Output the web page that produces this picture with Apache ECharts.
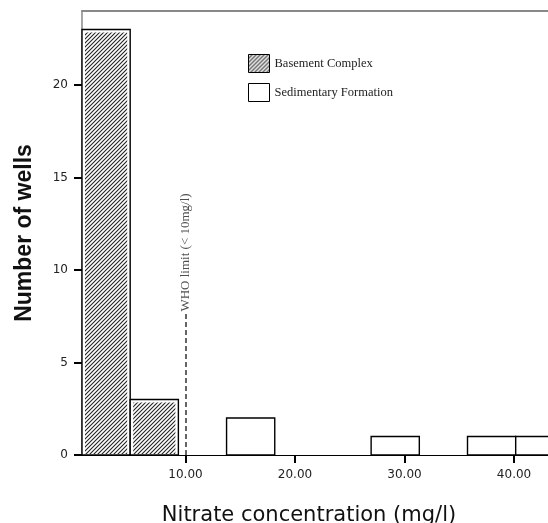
<!DOCTYPE html>
<html>
<head>
<meta charset="utf-8">
<script src="https://cdn.jsdelivr.net/npm/echarts@6/dist/echarts.min.js"></script>
<style>
  html, body { margin: 0; padding: 0; background: #fff; }
  #nitrate_chart { width: 548px; height: 523px; }
</style>
</head>
<body>
<div id="nitrate_chart"></div>
<script>
// histogram bins (mg/l) and counts
var binEdges = [0.55, 4.95, 9.35, 13.75, 18.15, 22.55, 26.95, 31.35, 35.75, 40.15, 44.55];
var basementCounts = [23, 3, 0, 0, 0, 0, 0, 0, 0, 0];
var sedimentaryCounts = [0, 0, 0, 2, 0, 0, 1, 0, 1, 1];
var seriesNames = ["Basement Complex", "Sedimentary Formation"];
var xTicks = [10, 20, 30, 40];
var yTicks = [0, 5, 10, 15, 20];
var whoLimit = 10;
var whoLineTop = 7.7;
var whoLabel = "WHO limit (< 10mg/l)";

// diagonal hatch tile
function makeHatch() {
  var c = document.createElement("canvas");
  c.width = 4;
  c.height = 4;
  var ctx = c.getContext("2d");
  ctx.strokeStyle = "#222";
  ctx.lineWidth = 1.1;
  ctx.beginPath();
  ctx.moveTo(-1, 5); ctx.lineTo(5, -1);
  ctx.moveTo(-1, 1); ctx.lineTo(1, -1);
  ctx.moveTo(3, 5); ctx.lineTo(5, 3);
  ctx.stroke();
  return { image: c, repeat: "repeat" };
}
var hatch = makeHatch();

function toBins(counts) {
  var out = [];
  counts.forEach(function (n, i) {
    if (n > 0) out.push([binEdges[i], binEdges[i + 1], n]);
  });
  return out;
}

function binRenderer(hatched) {
  return function (params, api) {
    var p0 = api.coord([api.value(0), 0]);
    var p1 = api.coord([api.value(1), api.value(2)]);
    var x = p0[0], y = p1[1], w = p1[0] - p0[0], h = p0[1] - p1[1];
    var children = [{
      type: "rect",
      shape: { x: x, y: y, width: w, height: h },
      style: { fill: "#fff", stroke: "#000", lineWidth: 1.4 }
    }];
    if (hatched) {
      children.push({
        type: "rect",
        shape: { x: x + 3, y: y + 3, width: w - 6, height: h - 4 },
        style: { fill: hatch }
      });
    }
    return { type: "group", children: children };
  };
}

var chart = echarts.init(document.getElementById("nitrate_chart"), null, { renderer: "canvas" });

var font = "DejaVu Sans";
chart.setOption({
  animation: false,
  backgroundColor: "#fff",
  grid: { left: 82, top: 11, right: 0, bottom: 68, outerBoundsMode: "none" },
  legend: {
    orient: "vertical",
    left: 243,
    top: 49,
    itemWidth: 21,
    itemHeight: 18,
    itemGap: 10,
    icon: "rect",
    itemStyle: { borderColor: "#000", borderWidth: 1 },
    textStyle: { fontFamily: "Liberation Serif", fontSize: 12.5, color: "#222" },
    data: [
      { name: seriesNames[0], itemStyle: { color: hatch } },
      { name: seriesNames[1], itemStyle: { color: "#fff" } }
    ]
  },
  xAxis: [
    {
      type: "value",
      min: binEdges[0],
      max: 43.1,
      position: "bottom",
      splitLine: { show: false },
      axisLine: { lineStyle: { color: "#000", width: 1 } },
      axisTick: { show: true, customValues: xTicks, length: 8, lineStyle: { color: "#000", width: 2 } },
      axisLabel: {
        customValues: xTicks,
        formatter: function (v) { return v.toFixed(2); },
        fontFamily: font, fontSize: 12, color: "#222", margin: 14
      },
      name: "Nitrate concentration (mg/l)",
      nameLocation: "middle",
      nameGap: 50,
      nameTextStyle: { fontFamily: font, fontSize: 21, color: "#111", padding: [0, 12, 0, 0] }
    },
    {
      type: "value",
      min: binEdges[0],
      max: 43.1,
      position: "top",
      splitLine: { show: false },
      axisLine: { show: true, lineStyle: { color: "#888", width: 2 } },
      axisTick: { show: false },
      axisLabel: { show: false }
    }
  ],
  yAxis: {
    type: "value",
    min: 0,
    max: 24,
    splitLine: { show: false },
    axisLine: { show: true, lineStyle: { color: "#888", width: 1.5 } },
    axisTick: { show: true, customValues: yTicks, length: 8, lineStyle: { color: "#000", width: 2 } },
    axisLabel: { customValues: yTicks, fontFamily: font, fontSize: 12, color: "#222", margin: 14 },
    name: "Number of wells",
    nameLocation: "middle",
    nameRotate: 90,
    nameGap: 46,
    nameTextStyle: { fontFamily: "Liberation Sans", fontWeight: "bold", fontSize: 23, color: "#111" }
  },
  series: [
    {
      name: seriesNames[0],
      type: "custom",
      renderItem: binRenderer(true),
      itemStyle: { color: hatch },
      encode: { x: [0, 1], y: 2 },
      data: toBins(basementCounts),
      z: 3
    },
    {
      name: seriesNames[1],
      type: "custom",
      renderItem: binRenderer(false),
      itemStyle: { color: "#fff" },
      encode: { x: [0, 1], y: 2 },
      data: toBins(sedimentaryCounts),
      z: 3
    },
    {
      type: "scatter",
      symbolSize: 0,
      silent: true,
      data: [[whoLimit, whoLineTop]],
      label: {
        show: true,
        formatter: whoLabel,
        position: "inside",
        rotate: 90,
        align: "left",
        verticalAlign: "middle",
        offset: [1, 0],
        fontFamily: "Liberation Serif",
        fontSize: 13,
        color: "#222"
      },
      markLine: {
        silent: true,
        symbol: ["none", "none"],
        label: { show: false },
        lineStyle: { type: [5, 3], color: "#333", width: 1.5 },
        data: [[{ coord: [whoLimit, 0] }, { coord: [whoLimit, whoLineTop] }]]
      },
      z: 4
    }
  ]
});
</script>
</body>
</html>
